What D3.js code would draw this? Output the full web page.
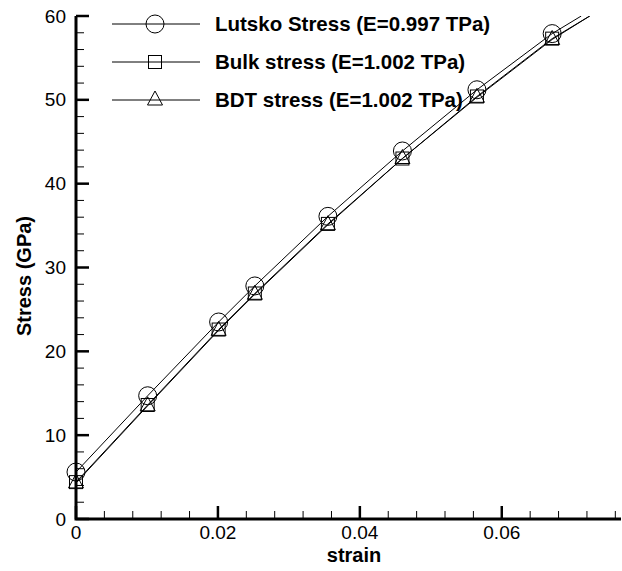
<!DOCTYPE html>
<html>
<head>
<meta charset="utf-8">
<script src="https://cdn.jsdelivr.net/npm/d3@7"></script>
<style>
  body { margin: 0; background: #fff; }
  text { font-family: "Liberation Sans", Arial, sans-serif; }
</style>
</head>
<body>
<div id="graph"></div>
<script>
// values
var strain = [0, 0.0101, 0.0201, 0.0252, 0.0355, 0.046, 0.0565, 0.0671]
var lutsko = [5.6, 14.7, 23.5, 27.8, 36.1, 43.9, 51.2, 57.9]
var bulk   = [4.4, 13.6, 22.6, 26.9, 35.2, 43.0, 50.4, 57.3]
var bdt    = [4.3, 13.5, 22.5, 26.8, 35.1, 43.0, 50.3, 57.2]
// line keeps going past the last symbol up to the top of the frame
var lutskoTail = [0.0712, 60]
var bulkTail   = [0.0724, 60]

var seriesNames = ['Lutsko Stress (E=0.997 TPa)', 'Bulk stress (E=1.002 TPa)', 'BDT stress (E=1.002 TPa)']
var xMajor = [0, 0.02, 0.04, 0.06]
var xTickLabels = ['0', '0.02', '0.04', '0.06']
var yMajor = [0, 10, 20, 30, 40, 50, 60]

var W = 622, H = 571
var svg = d3.select('#graph').append('svg').attr('width', W).attr('height', H)

var x = d3.scaleLinear().domain([0, 0.0768]).range([76, 621])
var y = d3.scaleLinear().domain([0, 60]).range([519, 16])

svg.append('clipPath').attr('id', 'clip')
  .append('rect').attr('x', 76).attr('y', 16).attr('width', 545).attr('height', 503)

var series = [
  {name: seriesNames[0], vals: lutsko, tail: lutskoTail, sym: 'circle'},
  {name: seriesNames[1], vals: bulk, tail: bulkTail, sym: 'square'},
  {name: seriesNames[2], vals: bdt, tail: bulkTail, sym: 'triangle'}
]

var line = d3.line().x(d => x(d[0])).y(d => y(d[1]))

series.forEach(s => {
  var pts = strain.map((v, i) => [v, s.vals[i]]).concat([s.tail])
  svg.append('path')
    .attr('clip-path', 'url(#clip)')
    .attr('d', line(pts))
    .attr('fill', 'none').attr('stroke', '#000').attr('stroke-width', 1)
})

function symbol(g, type){
  if (type == 'circle') {
    g.append('circle').attr('r', 9)
  } else if (type == 'square') {
    g.append('rect').attr('x', -6.5).attr('y', -6.5).attr('width', 13).attr('height', 13)
  } else {
    g.append('path').attr('d', 'M0,-9L7.5,5L-7.5,5Z')
  }
  g.selectAll('*').attr('fill', 'none').attr('stroke', '#000').attr('stroke-width', 1)
}

series.forEach(s => {
  strain.forEach((v, i) => {
    var g = svg.append('g').attr('transform', 'translate(' + [x(v), y(s.vals[i])] + ')')
    symbol(g, s.sym)
  })
})

// axes: ticks point into the plot
var ax = svg.append('g')
ax.append('path').attr('d', 'M' + [x(0), y(60)] + 'L' + [x(0), y(0)] + 'L' + [x.range()[1], y(0)])
  .attr('fill', 'none').attr('stroke', '#000').attr('stroke-width', 3)

d3.range(0, 61, 2).forEach(v => {
  var major = v % 10 == 0
  ax.append('line')
    .attr('x1', x(0)).attr('x2', x(0) + (major ? 13 : 8))
    .attr('y1', y(v)).attr('y2', y(v))
    .attr('stroke', '#000').attr('stroke-width', major ? 2.5 : 1)
})
d3.range(0, 77, 4).forEach(k => {
  var v = k / 1000
  var major = k % 20 == 0
  ax.append('line')
    .attr('x1', x(v)).attr('x2', x(v))
    .attr('y1', y(0)).attr('y2', y(0) - (major ? 13 : 8))
    .attr('stroke', '#000').attr('stroke-width', major ? 2.5 : 1)
})

yMajor.forEach(v => {
  ax.append('text').attr('x', 66).attr('y', y(v) + 6.5)
    .attr('text-anchor', 'end').attr('font-size', 19).text(v)
})
xMajor.forEach((v, i) => {
  ax.append('text').attr('x', x(v)).attr('y', 539)
    .attr('text-anchor', 'middle').attr('font-size', 19).text(xTickLabels[i])
})

svg.append('text').attr('x', 354).attr('y', 562)
  .attr('text-anchor', 'middle').attr('font-size', 20).attr('font-weight', 'bold').text('strain')
svg.append('text').attr('transform', 'translate(31,276) rotate(-90)')
  .attr('text-anchor', 'middle').attr('font-size', 20).attr('font-weight', 'bold').text('Stress (GPa)')

// legend
var rowY = [24, 62, 100]
series.forEach((s, i) => {
  var g = svg.append('g')
  g.append('line').attr('x1', 112).attr('x2', 200).attr('y1', rowY[i]).attr('y2', rowY[i])
    .attr('stroke', '#000').attr('stroke-width', 1)
  var m = g.append('g').attr('transform', 'translate(' + [155, rowY[i]] + ')')
  symbol(m, s.sym)
  g.append('text').attr('x', 215).attr('y', rowY[i] + 7)
    .attr('font-size', 20.5).attr('font-weight', 'bold').text(s.name)
})
</script>
</body>
</html>
